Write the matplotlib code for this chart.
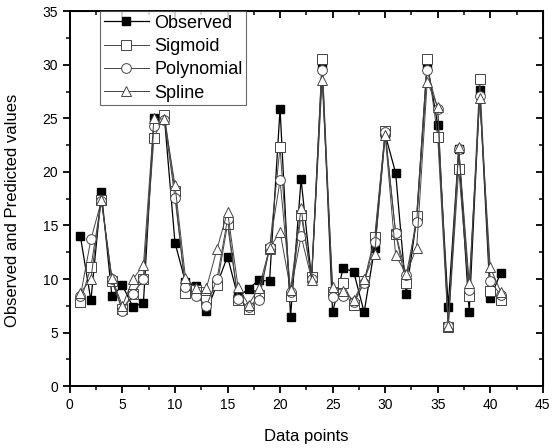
import matplotlib

matplotlib.use("Agg")
import matplotlib.pyplot as plt
import numpy as np

plt.rcParams["font.family"] = ["Liberation Sans", "DejaVu Sans"]

points = np.arange(1, 42)

observed = [14.0, 8.0, 18.1, 8.4, 9.4, 7.4, 7.8, 25.0, 25.0, 13.4,
            9.7, 9.35, 7.0, 9.5, 12.1, 8.3, 9.1, 9.9, 9.8, 25.9,
            6.5, 19.3, 10.0, 30.0, 6.9, 11.0, 10.7, 6.9, 12.9, 23.5,
            19.9, 8.6, 15.7, 30.1, 24.4, 7.4, 22.1, 6.9, 27.6, 8.2, 10.6]
sigmoid = [7.9, 11.1, 17.4, 9.8, 7.2, 8.6, 10.0, 23.2, 25.3, 18.2,
           8.7, 9.0, 8.0, 9.4, 15.1, 8.0, 7.2, 8.5, 12.8, 22.3,
           8.4, 16.0, 10.2, 30.5, 8.8, 9.6, 7.6, 9.8, 13.9, 23.8,
           14.2, 9.6, 15.9, 30.5, 23.3, 5.5, 20.3, 8.4, 28.7, 8.9, 8.0]
polynomial = [8.4, 13.7, 17.3, 10.0, 7.0, 8.6, 10.0, 24.3, 24.8, 17.6,
              9.3, 8.4, 7.5, 10.0, 15.6, 8.1, 7.4, 8.0, 13.0, 19.2,
              8.8, 14.0, 10.0, 29.5, 8.3, 8.4, 7.9, 9.6, 13.5, 23.7,
              14.3, 10.4, 15.3, 29.5, 25.9, 5.6, 22.1, 9.0, 27.1, 9.8, 8.5]
spline = [8.7, 10.0, 17.4, 10.1, 7.5, 10.0, 11.3, 25.0, 24.9, 18.8,
          10.1, 9.2, 9.2, 12.8, 16.3, 9.3, 7.6, 9.2, 12.9, 14.4,
          9.0, 16.6, 9.9, 28.6, 9.3, 8.9, 8.0, 10.0, 12.3, 23.4,
          12.2, 10.5, 12.9, 28.4, 26.1, 5.6, 22.3, 9.6, 26.9, 11.1, 8.8]

fig = plt.figure(figsize=(5.59, 4.48), dpi=100)
ax = fig.add_axes([0.125, 0.138, 0.846, 0.837])

ax.plot(points, observed, color="black", lw=0.9, marker="s", ms=6,
        mfc="black", mec="black", label="Observed")
ax.plot(points, sigmoid, color="#444444", lw=0.7, marker="s", ms=6.5,
        mfc="white", mec="#444444", mew=0.7, label="Sigmoid")
ax.plot(points, polynomial, color="#444444", lw=0.7, marker="o", ms=7,
        mfc="white", mec="#444444", mew=0.7, label="Polynomial")
ax.plot(points, spline, color="#444444", lw=0.7, marker="^", ms=7.5,
        mfc="white", mec="#444444", mew=0.7, label="Spline")

ax.set_xlim(0, 45)
ax.set_ylim(0, 35)
ax.set_xticks(np.arange(0, 46, 5))
ax.set_yticks(np.arange(0, 36, 5))
ax.set_xticks(np.arange(2.5, 45, 5), minor=True)
ax.set_yticks(np.arange(2.5, 35, 5), minor=True)
ax.tick_params(which="major", direction="out", length=5, width=1.3,
               labelsize=10, colors="black")
ax.tick_params(which="minor", direction="out", length=3, width=1.1)
for s in ax.spines.values():
    s.set_linewidth(1.4)

top = ax.secondary_xaxis("top")
top.set_xticks(np.arange(0, 46, 5))
top.set_xticks(np.arange(2.5, 45, 5), minor=True)
top.tick_params(which="major", direction="in", length=5, width=1.3, labeltop=False)
top.tick_params(which="minor", direction="in", length=3, width=1.1)
right = ax.secondary_yaxis("right")
right.set_yticks(np.arange(0, 36, 5))
right.set_yticks(np.arange(2.5, 35, 5), minor=True)
right.tick_params(which="major", direction="in", length=5, width=1.3, labelright=False)
right.tick_params(which="minor", direction="in", length=3, width=1.1)

ax.set_xlabel("Data points", fontsize=12, labelpad=12)
ax.set_ylabel("Observed and Predicted values", fontsize=12)
ax.yaxis.set_label_coords(-0.105, 0.47)

leg = ax.legend(loc="upper left", bbox_to_anchor=(0.064, 1.0), fontsize=13,
                frameon=True, fancybox=False, edgecolor="#444444",
                borderpad=0.2, labelspacing=0.35, handlelength=2.5,
                handletextpad=0.3, borderaxespad=0.0)
leg.get_frame().set_linewidth(0.8)

fig.savefig("out.png", dpi=100)
